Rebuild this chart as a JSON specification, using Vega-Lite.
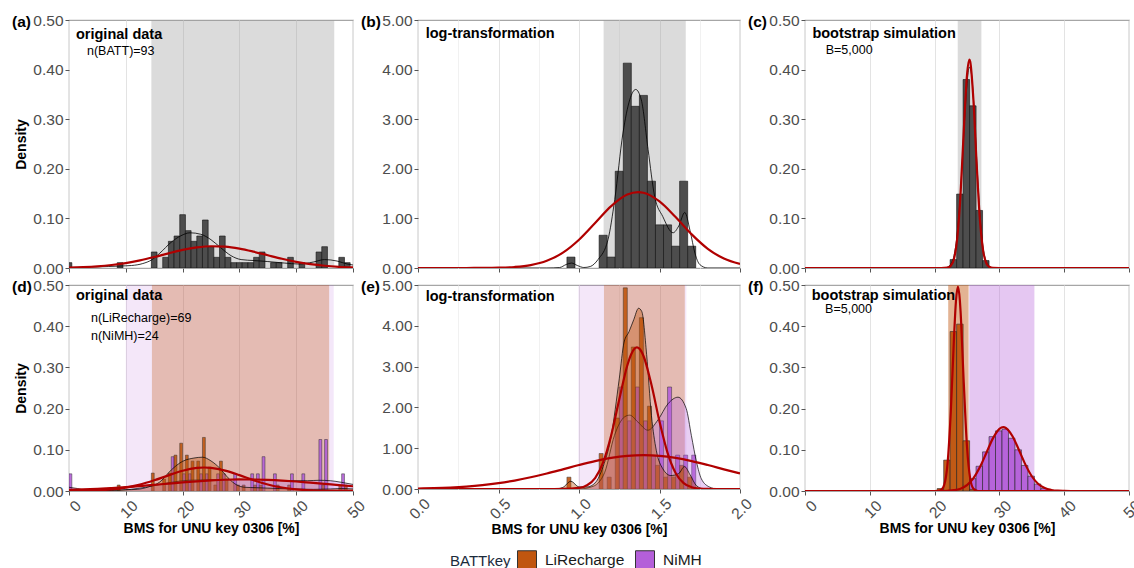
{
  "$schema": "https://vega.github.io/schema/vega-lite/v6.json",
  "padding": {"left": 11, "top": 12, "right": 0, "bottom": 0},
  "background": "white",
  "config": {
    "font": "Liberation Sans",
    "view": {"stroke": "#A6A6A6", "strokeWidth": 1.2},
    "axis": {"labelFont": "Liberation Sans", "labelFontSize": 15.5, "labelColor": "#4D4D4D", "titleFont": "Liberation Sans", "titleFontSize": 14, "titleFontWeight": "bold", "titleColor": "#000000", "domain": false, "tickSize": 4, "tickColor": "#555555", "labelOverlap": false, "labelFlush": false, "labelBound": false},
    "title": {"anchor": "start", "frame": "group", "fontSize": 15.5, "fontWeight": "bold", "font": "Liberation Sans", "color": "#000000", "offset": 0, "dx": -57, "dy": 21, "baseline": "alphabetic"},
    "text": {"font": "Liberation Sans", "color": "#000000"}
  },
  "datasets": {
    "bands": [
      {"p": "a", "g": "all", "lo": 14.5, "hi": 46.7},
      {"p": "b", "g": "all", "lo": 1.153, "hi": 1.663},
      {"p": "c", "g": "all", "lo": 23.57, "hi": 27.22},
      {"p": "d", "g": "NiMH", "lo": 10.0, "hi": 46.6},
      {"p": "d", "g": "LiRecharge", "lo": 14.6, "hi": 45.8},
      {"p": "e", "g": "NiMH", "lo": 0.996, "hi": 1.667},
      {"p": "e", "g": "LiRecharge", "lo": 1.155, "hi": 1.657},
      {"p": "f", "g": "NiMH", "lo": 25.35, "hi": 35.4},
      {"p": "f", "g": "LiRecharge", "lo": 22.1, "hi": 25.25}
    ],
    "notes": [
      {"p": "a", "x": 1.23, "y": 0.461, "t": "original data", "w": "bold"},
      {"p": "a", "x": 3.17, "y": 0.4294, "t": "n(BATT)=93", "w": "normal"},
      {"p": "b", "x": 0.048, "y": 4.63, "t": "log-transformation", "w": "bold"},
      {"p": "c", "x": 1.14, "y": 0.463, "t": "bootstrap simulation", "w": "bold"},
      {"p": "c", "x": 3.2, "y": 0.431, "t": "B=5,000", "w": "normal"},
      {"p": "d", "x": 1.23, "y": 0.4636, "t": "original data", "w": "bold"},
      {"p": "d", "x": 3.87, "y": 0.411, "t": "n(LiRecharge)=69", "w": "normal"},
      {"p": "d", "x": 3.87, "y": 0.3665, "t": "n(NiMH)=24", "w": "normal"},
      {"p": "e", "x": 0.048, "y": 4.62, "t": "log-transformation", "w": "bold"},
      {"p": "f", "x": 1.04, "y": 0.4636, "t": "bootstrap simulation", "w": "bold"},
      {"p": "f", "x": 3.1, "y": 0.431, "t": "B=5,000", "w": "normal"}
    ],
    "a_hist": [
      {"x0": -0.5, "x1": 0.5, "d": 0.0108}, {"x0": 8.5, "x1": 9.5, "d": 0.0108},
      {"x0": 14.5, "x1": 15.5, "d": 0.0323}, {"x0": 16.5, "x1": 17.5, "d": 0.0215},
      {"x0": 17.5, "x1": 18.5, "d": 0.0538}, {"x0": 18.5, "x1": 19.5, "d": 0.0645},
      {"x0": 19.5, "x1": 20.5, "d": 0.1075}, {"x0": 20.5, "x1": 21.5, "d": 0.0753},
      {"x0": 21.5, "x1": 22.5, "d": 0.0538}, {"x0": 22.5, "x1": 23.5, "d": 0.0645},
      {"x0": 23.5, "x1": 24.5, "d": 0.0968}, {"x0": 24.5, "x1": 25.5, "d": 0.043},
      {"x0": 25.5, "x1": 26.5, "d": 0.0215}, {"x0": 26.5, "x1": 27.5, "d": 0.0645},
      {"x0": 27.5, "x1": 28.5, "d": 0.0215}, {"x0": 28.5, "x1": 29.5, "d": 0.0108},
      {"x0": 29.5, "x1": 30.5, "d": 0.0108}, {"x0": 30.5, "x1": 31.5, "d": 0.0108},
      {"x0": 31.5, "x1": 32.5, "d": 0.0108}, {"x0": 32.5, "x1": 33.5, "d": 0.0215},
      {"x0": 33.5, "x1": 34.5, "d": 0.0323}, {"x0": 35.5, "x1": 36.5, "d": 0.0108},
      {"x0": 36.5, "x1": 37.5, "d": 0.0108}, {"x0": 38.5, "x1": 39.5, "d": 0.0215},
      {"x0": 40.5, "x1": 41.5, "d": 0.0108}, {"x0": 43.5, "x1": 44.5, "d": 0.0323},
      {"x0": 44.5, "x1": 45.5, "d": 0.043}, {"x0": 47.5, "x1": 48.5, "d": 0.0215},
      {"x0": 48.5, "x1": 49.5, "d": 0.0108}
    ],
    "a_kde": [
      {"x": 0, "d": 0.001}, {"x": 4, "d": 0.002}, {"x": 7, "d": 0.003}, {"x": 9, "d": 0.004},
      {"x": 11, "d": 0.005}, {"x": 13, "d": 0.009}, {"x": 14.5, "d": 0.016}, {"x": 16, "d": 0.03},
      {"x": 18, "d": 0.052}, {"x": 19.7, "d": 0.065}, {"x": 21.3, "d": 0.071}, {"x": 23.2, "d": 0.068},
      {"x": 25, "d": 0.057}, {"x": 26.7, "d": 0.041}, {"x": 28.5, "d": 0.025}, {"x": 30.3, "d": 0.017},
      {"x": 32.6, "d": 0.015}, {"x": 35, "d": 0.013}, {"x": 37.9, "d": 0.01}, {"x": 40.5, "d": 0.008},
      {"x": 43, "d": 0.012}, {"x": 45, "d": 0.017}, {"x": 47.2, "d": 0.014}, {"x": 49, "d": 0.008},
      {"x": 50, "d": 0.006}
    ],
    "a_norm": [
      {"x": 0, "d": 0.0008}, {"x": 2.5, "d": 0.0017}, {"x": 5, "d": 0.0033}, {"x": 7.5, "d": 0.006},
      {"x": 10, "d": 0.01}, {"x": 12.5, "d": 0.0155}, {"x": 15, "d": 0.0222}, {"x": 17.5, "d": 0.0295},
      {"x": 20, "d": 0.0364}, {"x": 22.5, "d": 0.0415}, {"x": 25, "d": 0.0439}, {"x": 27.5, "d": 0.043},
      {"x": 30, "d": 0.0391}, {"x": 32.5, "d": 0.0329}, {"x": 35, "d": 0.0257}, {"x": 37.5, "d": 0.0186},
      {"x": 40, "d": 0.0125}, {"x": 42.5, "d": 0.0078}, {"x": 45, "d": 0.0045}, {"x": 47.5, "d": 0.0024},
      {"x": 50, "d": 0.0012}
    ],
    "b_hist": [
      {"x0": 0.925, "x1": 0.975, "d": 0.22}, {"x0": 1.125, "x1": 1.175, "d": 0.66},
      {"x0": 1.175, "x1": 1.225, "d": 0.22}, {"x0": 1.225, "x1": 1.275, "d": 1.95},
      {"x0": 1.275, "x1": 1.325, "d": 4.13}, {"x0": 1.325, "x1": 1.375, "d": 3.26},
      {"x0": 1.375, "x1": 1.425, "d": 3.48}, {"x0": 1.425, "x1": 1.475, "d": 1.75},
      {"x0": 1.475, "x1": 1.525, "d": 0.87}, {"x0": 1.525, "x1": 1.575, "d": 0.87},
      {"x0": 1.575, "x1": 1.625, "d": 0.44}, {"x0": 1.625, "x1": 1.675, "d": 1.75},
      {"x0": 1.675, "x1": 1.725, "d": 0.44}
    ],
    "b_kde": [
      {"x": 0, "d": 0}, {"x": 0.8, "d": 0}, {"x": 0.88, "d": 0.01}, {"x": 0.92, "d": 0.07},
      {"x": 0.953, "d": 0.1}, {"x": 0.99, "d": 0.05}, {"x": 1.03, "d": 0.01}, {"x": 1.07, "d": 0.03},
      {"x": 1.118, "d": 0.17}, {"x": 1.18, "d": 0.57}, {"x": 1.222, "d": 1.38}, {"x": 1.273, "d": 2.72},
      {"x": 1.315, "d": 3.39}, {"x": 1.352, "d": 3.6}, {"x": 1.387, "d": 3.39}, {"x": 1.429, "d": 2.39},
      {"x": 1.47, "d": 1.44}, {"x": 1.52, "d": 1.04}, {"x": 1.584, "d": 0.71}, {"x": 1.62, "d": 0.85},
      {"x": 1.657, "d": 1.12}, {"x": 1.69, "d": 0.75}, {"x": 1.72, "d": 0.3}, {"x": 1.75, "d": 0.07},
      {"x": 1.8, "d": 0}, {"x": 2, "d": 0}
    ],
    "b_norm": [
      {"x": 0, "d": 0}, {"x": 0.2, "d": 0.0001}, {"x": 0.3, "d": 0.0004}, {"x": 0.4, "d": 0.0016},
      {"x": 0.5, "d": 0.0062}, {"x": 0.6, "d": 0.0204}, {"x": 0.7, "d": 0.0583}, {"x": 0.8, "d": 0.1446},
      {"x": 0.9, "d": 0.309}, {"x": 1.0, "d": 0.57}, {"x": 1.1, "d": 0.907}, {"x": 1.2, "d": 1.247},
      {"x": 1.3, "d": 1.48}, {"x": 1.367, "d": 1.53}, {"x": 1.4, "d": 1.518}, {"x": 1.5, "d": 1.343},
      {"x": 1.6, "d": 1.027}, {"x": 1.7, "d": 0.678}, {"x": 1.8, "d": 0.387}, {"x": 1.9, "d": 0.19},
      {"x": 2.0, "d": 0.081}
    ],
    "c_hist": [
      {"x0": 22.4, "x1": 23.4, "d": 0.017}, {"x0": 23.4, "x1": 24.4, "d": 0.149},
      {"x0": 24.4, "x1": 25.4, "d": 0.38}, {"x0": 25.4, "x1": 26.4, "d": 0.327},
      {"x0": 26.4, "x1": 27.4, "d": 0.116}, {"x0": 27.4, "x1": 28.4, "d": 0.015}
    ],
    "c_kde": [
      {"x": 0, "d": 0}, {"x": 21.5, "d": 0}, {"x": 22, "d": 0.002}, {"x": 22.5, "d": 0.008},
      {"x": 23, "d": 0.025}, {"x": 23.5, "d": 0.07}, {"x": 24, "d": 0.152}, {"x": 24.5, "d": 0.27},
      {"x": 25, "d": 0.372}, {"x": 25.35, "d": 0.405}, {"x": 25.7, "d": 0.39}, {"x": 26, "d": 0.34},
      {"x": 26.5, "d": 0.218}, {"x": 27, "d": 0.107}, {"x": 27.5, "d": 0.04}, {"x": 28, "d": 0.012},
      {"x": 28.5, "d": 0.003}, {"x": 29, "d": 0}, {"x": 50, "d": 0}
    ],
    "c_norm": [
      {"x": 0, "d": 0}, {"x": 21, "d": 0}, {"x": 22, "d": 0.0008}, {"x": 22.5, "d": 0.0044},
      {"x": 23, "d": 0.0187}, {"x": 23.5, "d": 0.0606}, {"x": 24, "d": 0.1485}, {"x": 24.5, "d": 0.276},
      {"x": 25, "d": 0.389}, {"x": 25.37, "d": 0.42}, {"x": 25.5, "d": 0.416}, {"x": 26, "d": 0.337},
      {"x": 26.5, "d": 0.207}, {"x": 27, "d": 0.0964}, {"x": 27.5, "d": 0.034}, {"x": 28, "d": 0.0091},
      {"x": 28.5, "d": 0.0018}, {"x": 29, "d": 0.0003}, {"x": 30, "d": 0}, {"x": 50, "d": 0}
    ],
    "d_hist": [
      {"g": "NiMH", "x0": 0, "x1": 0.5, "d": 0.0417}, {"g": "NiMH", "x0": 18, "x1": 18.5, "d": 0.0833},
      {"g": "NiMH", "x0": 20, "x1": 20.5, "d": 0.0417}, {"g": "NiMH", "x0": 21, "x1": 21.5, "d": 0.0417},
      {"g": "NiMH", "x0": 23, "x1": 23.5, "d": 0.0417}, {"g": "NiMH", "x0": 24, "x1": 24.5, "d": 0.0417},
      {"g": "NiMH", "x0": 26, "x1": 26.5, "d": 0.0417}, {"g": "NiMH", "x0": 27, "x1": 27.5, "d": 0.0417},
      {"g": "NiMH", "x0": 29, "x1": 29.5, "d": 0.0417}, {"g": "NiMH", "x0": 32, "x1": 32.5, "d": 0.0417},
      {"g": "NiMH", "x0": 33, "x1": 33.5, "d": 0.0417}, {"g": "NiMH", "x0": 34, "x1": 34.5, "d": 0.0833},
      {"g": "NiMH", "x0": 36, "x1": 36.5, "d": 0.0417}, {"g": "NiMH", "x0": 39, "x1": 39.5, "d": 0.0417},
      {"g": "NiMH", "x0": 41, "x1": 41.5, "d": 0.0417}, {"g": "NiMH", "x0": 44, "x1": 44.5, "d": 0.125},
      {"g": "NiMH", "x0": 45, "x1": 45.5, "d": 0.125}, {"g": "NiMH", "x0": 48, "x1": 48.5, "d": 0.0417},
      {"g": "LiRecharge", "x0": 8.5, "x1": 9, "d": 0.0145}, {"g": "LiRecharge", "x0": 14.5, "x1": 15, "d": 0.0435},
      {"g": "LiRecharge", "x0": 16.5, "x1": 17, "d": 0.029}, {"g": "LiRecharge", "x0": 17.5, "x1": 18, "d": 0.0435},
      {"g": "LiRecharge", "x0": 18.5, "x1": 19, "d": 0.087}, {"g": "LiRecharge", "x0": 19.5, "x1": 20, "d": 0.116},
      {"g": "LiRecharge", "x0": 20.5, "x1": 21, "d": 0.087}, {"g": "LiRecharge", "x0": 21.5, "x1": 22, "d": 0.0725},
      {"g": "LiRecharge", "x0": 22.5, "x1": 23, "d": 0.0725}, {"g": "LiRecharge", "x0": 23.5, "x1": 24, "d": 0.13},
      {"g": "LiRecharge", "x0": 24.5, "x1": 25, "d": 0.058}, {"g": "LiRecharge", "x0": 25.5, "x1": 26, "d": 0.0145},
      {"g": "LiRecharge", "x0": 26.5, "x1": 27, "d": 0.0725}, {"g": "LiRecharge", "x0": 27.5, "x1": 28, "d": 0.029},
      {"g": "LiRecharge", "x0": 29.5, "x1": 30, "d": 0.0145}, {"g": "LiRecharge", "x0": 30.5, "x1": 31, "d": 0.0145},
      {"g": "LiRecharge", "x0": 32.5, "x1": 33, "d": 0.0145}, {"g": "LiRecharge", "x0": 33.5, "x1": 34, "d": 0.0145},
      {"g": "LiRecharge", "x0": 36.5, "x1": 37, "d": 0.0145}, {"g": "LiRecharge", "x0": 38.5, "x1": 39, "d": 0.0145},
      {"g": "LiRecharge", "x0": 44.5, "x1": 45, "d": 0.0145}, {"g": "LiRecharge", "x0": 47.5, "x1": 48, "d": 0.0145},
      {"g": "LiRecharge", "x0": 48.5, "x1": 49, "d": 0.0145}
    ],
    "d_kde": [
      {"g": "LiRecharge", "x": 0, "d": 0}, {"g": "LiRecharge", "x": 6, "d": 0.0005}, {"g": "LiRecharge", "x": 8, "d": 0.002},
      {"g": "LiRecharge", "x": 10, "d": 0.003}, {"g": "LiRecharge", "x": 12, "d": 0.004}, {"g": "LiRecharge", "x": 14, "d": 0.01},
      {"g": "LiRecharge", "x": 16, "d": 0.022}, {"g": "LiRecharge", "x": 18, "d": 0.051}, {"g": "LiRecharge", "x": 20, "d": 0.072},
      {"g": "LiRecharge", "x": 22, "d": 0.08}, {"g": "LiRecharge", "x": 23.5, "d": 0.082}, {"g": "LiRecharge", "x": 25, "d": 0.073},
      {"g": "LiRecharge", "x": 26.5, "d": 0.056}, {"g": "LiRecharge", "x": 28, "d": 0.032}, {"g": "LiRecharge", "x": 29.5, "d": 0.015},
      {"g": "LiRecharge", "x": 31, "d": 0.009}, {"g": "LiRecharge", "x": 33, "d": 0.008}, {"g": "LiRecharge", "x": 35, "d": 0.007},
      {"g": "LiRecharge", "x": 37, "d": 0.006}, {"g": "LiRecharge", "x": 40, "d": 0.005}, {"g": "LiRecharge", "x": 43, "d": 0.004},
      {"g": "LiRecharge", "x": 46, "d": 0.005}, {"g": "LiRecharge", "x": 48, "d": 0.006}, {"g": "LiRecharge", "x": 50, "d": 0.005},
      {"g": "NiMH", "x": 0, "d": 0.009}, {"g": "NiMH", "x": 1.5, "d": 0.006}, {"g": "NiMH", "x": 3, "d": 0.002},
      {"g": "NiMH", "x": 6, "d": 0.001}, {"g": "NiMH", "x": 9, "d": 0.002}, {"g": "NiMH", "x": 12, "d": 0.006},
      {"g": "NiMH", "x": 15, "d": 0.013}, {"g": "NiMH", "x": 18, "d": 0.021}, {"g": "NiMH", "x": 21, "d": 0.026},
      {"g": "NiMH", "x": 24, "d": 0.027}, {"g": "NiMH", "x": 27, "d": 0.028}, {"g": "NiMH", "x": 30, "d": 0.028},
      {"g": "NiMH", "x": 33, "d": 0.028}, {"g": "NiMH", "x": 36, "d": 0.026}, {"g": "NiMH", "x": 39, "d": 0.025},
      {"g": "NiMH", "x": 42, "d": 0.025}, {"g": "NiMH", "x": 44, "d": 0.026}, {"g": "NiMH", "x": 46, "d": 0.025},
      {"g": "NiMH", "x": 48, "d": 0.021}, {"g": "NiMH", "x": 50, "d": 0.016}
    ],
    "d_norm": [
      {"g": "LiRecharge", "x": 0, "d": 0.0002}, {"g": "LiRecharge", "x": 2.5, "d": 0.0006}, {"g": "LiRecharge", "x": 5, "d": 0.0016},
      {"g": "LiRecharge", "x": 7.5, "d": 0.0038}, {"g": "LiRecharge", "x": 10, "d": 0.0082}, {"g": "LiRecharge", "x": 12.5, "d": 0.0155},
      {"g": "LiRecharge", "x": 15, "d": 0.0259}, {"g": "LiRecharge", "x": 17.5, "d": 0.038}, {"g": "LiRecharge", "x": 20, "d": 0.0492},
      {"g": "LiRecharge", "x": 22.5, "d": 0.056}, {"g": "LiRecharge", "x": 23.8, "d": 0.057}, {"g": "LiRecharge", "x": 25, "d": 0.0562},
      {"g": "LiRecharge", "x": 27.5, "d": 0.0496}, {"g": "LiRecharge", "x": 30, "d": 0.0385}, {"g": "LiRecharge", "x": 32.5, "d": 0.0263},
      {"g": "LiRecharge", "x": 35, "d": 0.0158}, {"g": "LiRecharge", "x": 37.5, "d": 0.0084}, {"g": "LiRecharge", "x": 40, "d": 0.0039},
      {"g": "LiRecharge", "x": 42.5, "d": 0.0016}, {"g": "LiRecharge", "x": 45, "d": 0.0006}, {"g": "LiRecharge", "x": 47.5, "d": 0.0002},
      {"g": "LiRecharge", "x": 50, "d": 0.0001},
      {"g": "NiMH", "x": 0, "d": 0.0026}, {"g": "NiMH", "x": 2.5, "d": 0.0038}, {"g": "NiMH", "x": 5, "d": 0.0053},
      {"g": "NiMH", "x": 7.5, "d": 0.0072}, {"g": "NiMH", "x": 10, "d": 0.0094}, {"g": "NiMH", "x": 12.5, "d": 0.012},
      {"g": "NiMH", "x": 15, "d": 0.0149}, {"g": "NiMH", "x": 17.5, "d": 0.0179}, {"g": "NiMH", "x": 20, "d": 0.0208},
      {"g": "NiMH", "x": 22.5, "d": 0.0235}, {"g": "NiMH", "x": 25, "d": 0.0257}, {"g": "NiMH", "x": 27.5, "d": 0.0273},
      {"g": "NiMH", "x": 30, "d": 0.028}, {"g": "NiMH", "x": 32.5, "d": 0.0279}, {"g": "NiMH", "x": 35, "d": 0.027},
      {"g": "NiMH", "x": 37.5, "d": 0.0253}, {"g": "NiMH", "x": 40, "d": 0.023}, {"g": "NiMH", "x": 42.5, "d": 0.0202},
      {"g": "NiMH", "x": 45, "d": 0.0173}, {"g": "NiMH", "x": 47.5, "d": 0.0143}, {"g": "NiMH", "x": 50, "d": 0.0115}
    ],
    "e_hist": [
      {"g": "NiMH", "x0": 1.25, "x1": 1.275, "d": 2.5}, {"g": "NiMH", "x0": 1.3, "x1": 1.325, "d": 1.67},
      {"g": "NiMH", "x0": 1.35, "x1": 1.375, "d": 2.5}, {"g": "NiMH", "x0": 1.4, "x1": 1.425, "d": 1.67},
      {"g": "NiMH", "x0": 1.45, "x1": 1.475, "d": 0.83}, {"g": "NiMH", "x0": 1.5, "x1": 1.525, "d": 1.67},
      {"g": "NiMH", "x0": 1.55, "x1": 1.575, "d": 2.5}, {"g": "NiMH", "x0": 1.6, "x1": 1.625, "d": 0.83},
      {"g": "NiMH", "x0": 1.65, "x1": 1.675, "d": 0.83}, {"g": "NiMH", "x0": 1.7, "x1": 1.725, "d": 0.83},
      {"g": "LiRecharge", "x0": 0.925, "x1": 0.95, "d": 0.29}, {"g": "LiRecharge", "x0": 1.125, "x1": 1.15, "d": 0.87},
      {"g": "LiRecharge", "x0": 1.175, "x1": 1.2, "d": 0.29}, {"g": "LiRecharge", "x0": 1.225, "x1": 1.25, "d": 1.74},
      {"g": "LiRecharge", "x0": 1.275, "x1": 1.3, "d": 4.93}, {"g": "LiRecharge", "x0": 1.325, "x1": 1.35, "d": 3.48},
      {"g": "LiRecharge", "x0": 1.375, "x1": 1.4, "d": 4.2}, {"g": "LiRecharge", "x0": 1.425, "x1": 1.45, "d": 2.03},
      {"g": "LiRecharge", "x0": 1.475, "x1": 1.5, "d": 0.58}, {"g": "LiRecharge", "x0": 1.525, "x1": 1.55, "d": 0.29},
      {"g": "LiRecharge", "x0": 1.575, "x1": 1.6, "d": 0.29}, {"g": "LiRecharge", "x0": 1.625, "x1": 1.65, "d": 0.58},
      {"g": "LiRecharge", "x0": 1.675, "x1": 1.7, "d": 0.29}
    ],
    "e_kde": [
      {"g": "LiRecharge", "x": 0, "d": 0}, {"g": "LiRecharge", "x": 0.85, "d": 0}, {"g": "LiRecharge", "x": 0.9, "d": 0.04},
      {"g": "LiRecharge", "x": 0.95, "d": 0.19}, {"g": "LiRecharge", "x": 1.0, "d": 0.05}, {"g": "LiRecharge", "x": 1.05, "d": 0.05},
      {"g": "LiRecharge", "x": 1.1, "d": 0.15}, {"g": "LiRecharge", "x": 1.15, "d": 0.55}, {"g": "LiRecharge", "x": 1.2, "d": 1.3},
      {"g": "LiRecharge", "x": 1.25, "d": 2.7}, {"g": "LiRecharge", "x": 1.28, "d": 3.6}, {"g": "LiRecharge", "x": 1.31, "d": 3.85},
      {"g": "LiRecharge", "x": 1.34, "d": 4.15}, {"g": "LiRecharge", "x": 1.37, "d": 4.43}, {"g": "LiRecharge", "x": 1.39, "d": 4.35},
      {"g": "LiRecharge", "x": 1.42, "d": 3.3}, {"g": "LiRecharge", "x": 1.45, "d": 1.8}, {"g": "LiRecharge", "x": 1.48, "d": 0.95},
      {"g": "LiRecharge", "x": 1.52, "d": 0.5}, {"g": "LiRecharge", "x": 1.57, "d": 0.33}, {"g": "LiRecharge", "x": 1.62, "d": 0.38},
      {"g": "LiRecharge", "x": 1.655, "d": 0.55}, {"g": "LiRecharge", "x": 1.69, "d": 0.35}, {"g": "LiRecharge", "x": 1.73, "d": 0.08},
      {"g": "LiRecharge", "x": 1.78, "d": 0}, {"g": "LiRecharge", "x": 2, "d": 0},
      {"g": "NiMH", "x": 0, "d": 0}, {"g": "NiMH", "x": 1.0, "d": 0}, {"g": "NiMH", "x": 1.076, "d": 0.05},
      {"g": "NiMH", "x": 1.12, "d": 0.15}, {"g": "NiMH", "x": 1.16, "d": 0.41}, {"g": "NiMH", "x": 1.22, "d": 1.31},
      {"g": "NiMH", "x": 1.284, "d": 1.77}, {"g": "NiMH", "x": 1.315, "d": 1.81}, {"g": "NiMH", "x": 1.366, "d": 1.64},
      {"g": "NiMH", "x": 1.428, "d": 1.44}, {"g": "NiMH", "x": 1.49, "d": 1.69}, {"g": "NiMH", "x": 1.553, "d": 2.09},
      {"g": "NiMH", "x": 1.615, "d": 2.25}, {"g": "NiMH", "x": 1.666, "d": 1.97}, {"g": "NiMH", "x": 1.698, "d": 1.31},
      {"g": "NiMH", "x": 1.73, "d": 0.66}, {"g": "NiMH", "x": 1.76, "d": 0.25}, {"g": "NiMH", "x": 1.81, "d": 0.05},
      {"g": "NiMH", "x": 1.86, "d": 0}, {"g": "NiMH", "x": 2, "d": 0}
    ],
    "e_norm": [
      {"g": "LiRecharge", "x": 0, "d": 0}, {"g": "LiRecharge", "x": 0.8, "d": 0}, {"g": "LiRecharge", "x": 0.9, "d": 0.0012},
      {"g": "LiRecharge", "x": 1.0, "d": 0.026}, {"g": "LiRecharge", "x": 1.05, "d": 0.092}, {"g": "LiRecharge", "x": 1.1, "d": 0.269},
      {"g": "LiRecharge", "x": 1.15, "d": 0.655}, {"g": "LiRecharge", "x": 1.2, "d": 1.318}, {"g": "LiRecharge", "x": 1.25, "d": 2.195},
      {"g": "LiRecharge", "x": 1.3, "d": 3.028}, {"g": "LiRecharge", "x": 1.325, "d": 3.31}, {"g": "LiRecharge", "x": 1.36, "d": 3.47},
      {"g": "LiRecharge", "x": 1.375, "d": 3.44}, {"g": "LiRecharge", "x": 1.4, "d": 3.267}, {"g": "LiRecharge", "x": 1.45, "d": 2.554},
      {"g": "LiRecharge", "x": 1.5, "d": 1.654}, {"g": "LiRecharge", "x": 1.55, "d": 0.886}, {"g": "LiRecharge", "x": 1.6, "d": 0.393},
      {"g": "LiRecharge", "x": 1.65, "d": 0.144}, {"g": "LiRecharge", "x": 1.7, "d": 0.044}, {"g": "LiRecharge", "x": 1.75, "d": 0.011},
      {"g": "LiRecharge", "x": 1.8, "d": 0.002}, {"g": "LiRecharge", "x": 1.9, "d": 0}, {"g": "LiRecharge", "x": 2, "d": 0},
      {"g": "NiMH", "x": 0, "d": 0.0118}, {"g": "NiMH", "x": 0.1, "d": 0.0212}, {"g": "NiMH", "x": 0.2, "d": 0.0365},
      {"g": "NiMH", "x": 0.3, "d": 0.0601}, {"g": "NiMH", "x": 0.4, "d": 0.0948}, {"g": "NiMH", "x": 0.5, "d": 0.143},
      {"g": "NiMH", "x": 0.6, "d": 0.207}, {"g": "NiMH", "x": 0.7, "d": 0.287}, {"g": "NiMH", "x": 0.8, "d": 0.38},
      {"g": "NiMH", "x": 0.9, "d": 0.4825}, {"g": "NiMH", "x": 1.0, "d": 0.587}, {"g": "NiMH", "x": 1.1, "d": 0.683},
      {"g": "NiMH", "x": 1.2, "d": 0.761}, {"g": "NiMH", "x": 1.3, "d": 0.812}, {"g": "NiMH", "x": 1.4, "d": 0.83},
      {"g": "NiMH", "x": 1.5, "d": 0.812}, {"g": "NiMH", "x": 1.6, "d": 0.761}, {"g": "NiMH", "x": 1.7, "d": 0.683},
      {"g": "NiMH", "x": 1.8, "d": 0.587}, {"g": "NiMH", "x": 1.9, "d": 0.4825}, {"g": "NiMH", "x": 2.0, "d": 0.38}
    ],
    "f_hist": [
      {"g": "NiMH", "x0": 24.4, "x1": 25.4, "d": 0.015}, {"g": "NiMH", "x0": 25.4, "x1": 26.4, "d": 0.03},
      {"g": "NiMH", "x0": 26.4, "x1": 27.4, "d": 0.06}, {"g": "NiMH", "x0": 27.4, "x1": 28.4, "d": 0.095},
      {"g": "NiMH", "x0": 28.4, "x1": 29.4, "d": 0.132}, {"g": "NiMH", "x0": 29.4, "x1": 30.4, "d": 0.146},
      {"g": "NiMH", "x0": 30.4, "x1": 31.4, "d": 0.15}, {"g": "NiMH", "x0": 31.4, "x1": 32.4, "d": 0.128},
      {"g": "NiMH", "x0": 32.4, "x1": 33.4, "d": 0.1}, {"g": "NiMH", "x0": 33.4, "x1": 34.4, "d": 0.062},
      {"g": "NiMH", "x0": 34.4, "x1": 35.4, "d": 0.036}, {"g": "NiMH", "x0": 35.4, "x1": 36.4, "d": 0.017},
      {"g": "NiMH", "x0": 36.4, "x1": 37.4, "d": 0.006}, {"g": "NiMH", "x0": 37.4, "x1": 38.4, "d": 0.002},
      {"g": "LiRecharge", "x0": 20.4, "x1": 21.4, "d": 0.006}, {"g": "LiRecharge", "x0": 21.4, "x1": 22.4, "d": 0.075},
      {"g": "LiRecharge", "x0": 22.4, "x1": 23.4, "d": 0.387}, {"g": "LiRecharge", "x0": 23.4, "x1": 24.4, "d": 0.405},
      {"g": "LiRecharge", "x0": 24.4, "x1": 25.4, "d": 0.122}, {"g": "LiRecharge", "x0": 25.4, "x1": 26.4, "d": 0.004}
    ],
    "f_norm": [
      {"g": "LiRecharge", "x": 0, "d": 0}, {"g": "LiRecharge", "x": 20, "d": 0}, {"g": "LiRecharge", "x": 20.5, "d": 0.0003},
      {"g": "LiRecharge", "x": 21, "d": 0.0025}, {"g": "LiRecharge", "x": 21.5, "d": 0.0158}, {"g": "LiRecharge", "x": 22, "d": 0.0671},
      {"g": "LiRecharge", "x": 22.5, "d": 0.1927}, {"g": "LiRecharge", "x": 23, "d": 0.3744}, {"g": "LiRecharge", "x": 23.3, "d": 0.462},
      {"g": "LiRecharge", "x": 23.6, "d": 0.496}, {"g": "LiRecharge", "x": 23.9, "d": 0.462}, {"g": "LiRecharge", "x": 24, "d": 0.4377},
      {"g": "LiRecharge", "x": 24.5, "d": 0.2634}, {"g": "LiRecharge", "x": 25, "d": 0.1073}, {"g": "LiRecharge", "x": 25.5, "d": 0.0296},
      {"g": "LiRecharge", "x": 26, "d": 0.0055}, {"g": "LiRecharge", "x": 26.5, "d": 0.0007}, {"g": "LiRecharge", "x": 27, "d": 0},
      {"g": "LiRecharge", "x": 50, "d": 0},
      {"g": "NiMH", "x": 0, "d": 0}, {"g": "NiMH", "x": 21, "d": 0}, {"g": "NiMH", "x": 22, "d": 0.0006},
      {"g": "NiMH", "x": 23, "d": 0.002}, {"g": "NiMH", "x": 24, "d": 0.0057}, {"g": "NiMH", "x": 25, "d": 0.0144},
      {"g": "NiMH", "x": 26, "d": 0.0312}, {"g": "NiMH", "x": 27, "d": 0.0581}, {"g": "NiMH", "x": 28, "d": 0.0929},
      {"g": "NiMH", "x": 29, "d": 0.1277}, {"g": "NiMH", "x": 30, "d": 0.1508}, {"g": "NiMH", "x": 30.6, "d": 0.155},
      {"g": "NiMH", "x": 31, "d": 0.1531}, {"g": "NiMH", "x": 32, "d": 0.1336}, {"g": "NiMH", "x": 33, "d": 0.1002},
      {"g": "NiMH", "x": 34, "d": 0.0646}, {"g": "NiMH", "x": 35, "d": 0.0358}, {"g": "NiMH", "x": 36, "d": 0.0171},
      {"g": "NiMH", "x": 37, "d": 0.007}, {"g": "NiMH", "x": 38, "d": 0.0025}, {"g": "NiMH", "x": 39, "d": 0.0007},
      {"g": "NiMH", "x": 40, "d": 0.0002}, {"g": "NiMH", "x": 41, "d": 0}, {"g": "NiMH", "x": 50, "d": 0}
    ]
  },
  "columns": 3,
  "bounds": "flush",
  "spacing": {"row": 17, "column": 65},
  "resolve": {"scale": {"x": "independent", "y": "independent", "color": "independent"}},
  "concat": [
    {
      "width": 284, "height": 248,
      "title": {"text": "(a)"},
      "layer": [
        {
          "data": {"name": "bands"}, "transform": [{"filter": "datum.p === 'a'"}],
          "mark": {"type": "rect", "color": "#9A9A9A", "opacity": 0.36},
          "encoding": {
            "x": {"field": "lo", "type": "quantitative", "scale": {"domain": [0, 50], "nice": false, "zero": false},
                  "axis": {"values": [0, 5, 10, 15, 20, 25, 30, 35, 40, 45, 50], "labels": false, "title": null,
                           "tickOpacity": {"condition": {"test": "datum.value % 10 === 0", "value": 1}, "value": 0},
                           "gridColor": {"condition": {"test": "datum.value % 10 === 0", "value": "#E3E3E3"}, "value": "#F1F1F1"}}},
            "x2": {"field": "hi"},
            "y": {"datum": 0, "type": "quantitative", "scale": {"domain": [0, 0.5], "nice": false},
                  "axis": {"values": [0, 0.05, 0.1, 0.15, 0.2, 0.25, 0.3, 0.35, 0.4, 0.45, 0.5], "title": "Density", "titlePadding": 4,
                           "labelExpr": "round(datum.value*100) % 10 === 0 ? format(datum.value, '.2f') : ''", "labelPadding": 2,
                           "tickOpacity": {"condition": {"test": "round(datum.value*100) % 10 === 0", "value": 1}, "value": 0},
                           "gridColor": {"condition": {"test": "round(datum.value*100) % 10 === 0", "value": "#E3E3E3"}, "value": "#F1F1F1"}}},
            "y2": {"datum": 0.5}
          }
        },
        {
          "data": {"name": "a_hist"},
          "mark": {"type": "rect", "fill": "#4D4D4D", "stroke": "#111111", "strokeWidth": 0.6, "clip": true},
          "encoding": {"x": {"field": "x0", "type": "quantitative"}, "x2": {"field": "x1"}, "y": {"field": "d", "type": "quantitative"}, "y2": {"datum": 0}}
        },
        {
          "data": {"name": "a_kde"},
          "mark": {"type": "line", "color": "#000000", "strokeWidth": 0.8, "interpolate": "monotone", "clip": true},
          "encoding": {"x": {"field": "x", "type": "quantitative"}, "y": {"field": "d", "type": "quantitative"}}
        },
        {
          "data": {"name": "a_norm"},
          "mark": {"type": "line", "color": "#B00000", "strokeWidth": 2.2, "interpolate": "monotone", "clip": true},
          "encoding": {"x": {"field": "x", "type": "quantitative"}, "y": {"field": "d", "type": "quantitative"}}
        },
        {
          "data": {"name": "notes"}, "transform": [{"filter": "datum.p === 'a' && datum.w === 'bold'"}],
          "mark": {"type": "text", "align": "left", "baseline": "alphabetic", "fontWeight": "bold", "fontSize": 14.5},
          "encoding": {"x": {"field": "x", "type": "quantitative"}, "y": {"field": "y", "type": "quantitative"}, "text": {"field": "t"}}
        },
        {
          "data": {"name": "notes"}, "transform": [{"filter": "datum.p === 'a' && datum.w === 'normal'"}],
          "mark": {"type": "text", "align": "left", "baseline": "alphabetic", "fontSize": 12.5},
          "encoding": {"x": {"field": "x", "type": "quantitative"}, "y": {"field": "y", "type": "quantitative"}, "text": {"field": "t"}}
        }
      ]
    },
    {
      "width": 322, "height": 248,
      "title": {"text": "(b)"},
      "layer": [
        {
          "data": {"name": "bands"}, "transform": [{"filter": "datum.p === 'b'"}],
          "mark": {"type": "rect", "color": "#9A9A9A", "opacity": 0.36},
          "encoding": {
            "x": {"field": "lo", "type": "quantitative", "scale": {"domain": [0, 2], "nice": false, "zero": false},
                  "axis": {"values": [0, 0.25, 0.5, 0.75, 1, 1.25, 1.5, 1.75, 2], "labels": false, "title": null,
                           "tickOpacity": {"condition": {"test": "round(datum.value*100) % 50 === 0", "value": 1}, "value": 0},
                           "gridColor": {"condition": {"test": "round(datum.value*100) % 50 === 0", "value": "#E3E3E3"}, "value": "#F1F1F1"}}},
            "x2": {"field": "hi"},
            "y": {"datum": 0, "type": "quantitative", "scale": {"domain": [0, 5], "nice": false},
                  "axis": {"values": [0, 0.5, 1, 1.5, 2, 2.5, 3, 3.5, 4, 4.5, 5], "title": null,
                           "labelExpr": "datum.value % 1 === 0 ? format(datum.value, '.2f') : ''", "labelPadding": 2,
                           "tickOpacity": {"condition": {"test": "datum.value % 1 === 0", "value": 1}, "value": 0},
                           "gridColor": {"condition": {"test": "datum.value % 1 === 0", "value": "#E3E3E3"}, "value": "#F1F1F1"}}},
            "y2": {"datum": 5}
          }
        },
        {
          "data": {"name": "b_hist"},
          "mark": {"type": "rect", "fill": "#4D4D4D", "stroke": "#111111", "strokeWidth": 0.6, "clip": true},
          "encoding": {"x": {"field": "x0", "type": "quantitative"}, "x2": {"field": "x1"}, "y": {"field": "d", "type": "quantitative"}, "y2": {"datum": 0}}
        },
        {
          "data": {"name": "b_kde"},
          "mark": {"type": "line", "color": "#000000", "strokeWidth": 0.8, "interpolate": "monotone", "clip": true},
          "encoding": {"x": {"field": "x", "type": "quantitative"}, "y": {"field": "d", "type": "quantitative"}}
        },
        {
          "data": {"name": "b_norm"},
          "mark": {"type": "line", "color": "#B00000", "strokeWidth": 2.2, "interpolate": "monotone", "clip": true},
          "encoding": {"x": {"field": "x", "type": "quantitative"}, "y": {"field": "d", "type": "quantitative"}}
        },
        {
          "data": {"name": "notes"}, "transform": [{"filter": "datum.p === 'b'"}],
          "mark": {"type": "text", "align": "left", "baseline": "alphabetic", "fontWeight": "bold", "fontSize": 14.5},
          "encoding": {"x": {"field": "x", "type": "quantitative"}, "y": {"field": "y", "type": "quantitative"}, "text": {"field": "t"}}
        }
      ]
    },
    {
      "width": 324, "height": 248,
      "title": {"text": "(c)"},
      "layer": [
        {
          "data": {"name": "bands"}, "transform": [{"filter": "datum.p === 'c'"}],
          "mark": {"type": "rect", "color": "#9A9A9A", "opacity": 0.36},
          "encoding": {
            "x": {"field": "lo", "type": "quantitative", "scale": {"domain": [0, 50], "nice": false, "zero": false},
                  "axis": {"values": [0, 5, 10, 15, 20, 25, 30, 35, 40, 45, 50], "labels": false, "title": null,
                           "tickOpacity": {"condition": {"test": "datum.value % 10 === 0", "value": 1}, "value": 0},
                           "gridColor": {"condition": {"test": "datum.value % 10 === 0", "value": "#E3E3E3"}, "value": "#F1F1F1"}}},
            "x2": {"field": "hi"},
            "y": {"datum": 0, "type": "quantitative", "scale": {"domain": [0, 0.5], "nice": false},
                  "axis": {"values": [0, 0.05, 0.1, 0.15, 0.2, 0.25, 0.3, 0.35, 0.4, 0.45, 0.5], "title": null,
                           "labelExpr": "round(datum.value*100) % 10 === 0 ? format(datum.value, '.2f') : ''", "labelPadding": 2,
                           "tickOpacity": {"condition": {"test": "round(datum.value*100) % 10 === 0", "value": 1}, "value": 0},
                           "gridColor": {"condition": {"test": "round(datum.value*100) % 10 === 0", "value": "#E3E3E3"}, "value": "#F1F1F1"}}},
            "y2": {"datum": 0.5}
          }
        },
        {
          "data": {"name": "c_hist"},
          "mark": {"type": "rect", "fill": "#4D4D4D", "stroke": "#111111", "strokeWidth": 0.6, "clip": true},
          "encoding": {"x": {"field": "x0", "type": "quantitative"}, "x2": {"field": "x1"}, "y": {"field": "d", "type": "quantitative"}, "y2": {"datum": 0}}
        },
        {
          "data": {"name": "c_kde"},
          "mark": {"type": "line", "color": "#000000", "strokeWidth": 0.8, "interpolate": "monotone", "clip": true},
          "encoding": {"x": {"field": "x", "type": "quantitative"}, "y": {"field": "d", "type": "quantitative"}}
        },
        {
          "data": {"name": "c_norm"},
          "mark": {"type": "line", "color": "#B00000", "strokeWidth": 2.2, "interpolate": "monotone", "clip": true},
          "encoding": {"x": {"field": "x", "type": "quantitative"}, "y": {"field": "d", "type": "quantitative"}}
        },
        {
          "data": {"name": "notes"}, "transform": [{"filter": "datum.p === 'c' && datum.w === 'bold'"}],
          "mark": {"type": "text", "align": "left", "baseline": "alphabetic", "fontWeight": "bold", "fontSize": 14.5},
          "encoding": {"x": {"field": "x", "type": "quantitative"}, "y": {"field": "y", "type": "quantitative"}, "text": {"field": "t"}}
        },
        {
          "data": {"name": "notes"}, "transform": [{"filter": "datum.p === 'c' && datum.w === 'normal'"}],
          "mark": {"type": "text", "align": "left", "baseline": "alphabetic", "fontSize": 12.5},
          "encoding": {"x": {"field": "x", "type": "quantitative"}, "y": {"field": "y", "type": "quantitative"}, "text": {"field": "t"}}
        }
      ]
    },
    {
      "width": 284, "height": 206,
      "title": {"text": "(d)"},
      "layer": [
        {
          "data": {"name": "bands"}, "transform": [{"filter": "datum.p === 'd' && datum.g === 'NiMH'"}],
          "mark": {"type": "rect", "color": "#B45FD9", "opacity": 0.15},
          "encoding": {
            "x": {"field": "lo", "type": "quantitative", "scale": {"domain": [0, 50], "nice": false, "zero": false},
                  "axis": {"values": [0, 5, 10, 15, 20, 25, 30, 35, 40, 45, 50], "format": "d", "title": "BMS for UNU key 0306 [%]", "titlePadding": 0,
                           "labelExpr": "datum.value % 10 === 0 ? datum.label : ''", "labelAngle": -45, "labelAlign": "right", "labelBaseline": "top", "labelOffset": 4, "labelPadding": 3,
                           "tickOpacity": {"condition": {"test": "datum.value % 10 === 0", "value": 1}, "value": 0},
                           "gridColor": {"condition": {"test": "datum.value % 10 === 0", "value": "#E3E3E3"}, "value": "#F1F1F1"}}},
            "x2": {"field": "hi"},
            "y": {"datum": 0, "type": "quantitative", "scale": {"domain": [0, 0.5], "nice": false},
                  "axis": {"values": [0, 0.05, 0.1, 0.15, 0.2, 0.25, 0.3, 0.35, 0.4, 0.45, 0.5], "title": "Density", "titlePadding": 4,
                           "labelExpr": "round(datum.value*100) % 10 === 0 ? format(datum.value, '.2f') : ''", "labelPadding": 2,
                           "tickOpacity": {"condition": {"test": "round(datum.value*100) % 10 === 0", "value": 1}, "value": 0},
                           "gridColor": {"condition": {"test": "round(datum.value*100) % 10 === 0", "value": "#E3E3E3"}, "value": "#F1F1F1"}}},
            "y2": {"datum": 0.5}
          }
        },
        {
          "data": {"name": "bands"}, "transform": [{"filter": "datum.p === 'd' && datum.g === 'LiRecharge'"}],
          "mark": {"type": "rect", "color": "#C0560F", "opacity": 0.3},
          "encoding": {"x": {"field": "lo", "type": "quantitative"}, "x2": {"field": "hi"}, "y": {"datum": 0, "type": "quantitative"}, "y2": {"datum": 0.5}}
        },
        {
          "data": {"name": "d_hist"},
          "mark": {"type": "rect", "stroke": "#222222", "strokeWidth": 0.5, "opacity": 0.9, "clip": true},
          "encoding": {"x": {"field": "x0", "type": "quantitative"}, "x2": {"field": "x1"}, "y": {"field": "d", "type": "quantitative"}, "y2": {"datum": 0},
                       "color": {"field": "g", "type": "nominal", "scale": {"domain": ["LiRecharge", "NiMH"], "range": ["#C0560F", "#B45FD9"]}, "legend": null}}
        },
        {
          "data": {"name": "d_kde"}, "transform": [{"filter": "datum.g === 'NiMH'"}],
          "mark": {"type": "area", "color": "#B45FD9", "opacity": 0.3, "interpolate": "monotone", "clip": true, "line": {"color": "#000000", "strokeWidth": 0.7, "opacity": 1}},
          "encoding": {"x": {"field": "x", "type": "quantitative"}, "y": {"field": "d", "type": "quantitative"}}
        },
        {
          "data": {"name": "d_kde"}, "transform": [{"filter": "datum.g === 'LiRecharge'"}],
          "mark": {"type": "area", "color": "#C0560F", "opacity": 0.4, "interpolate": "monotone", "clip": true, "line": {"color": "#000000", "strokeWidth": 0.7, "opacity": 1}},
          "encoding": {"x": {"field": "x", "type": "quantitative"}, "y": {"field": "d", "type": "quantitative"}}
        },
        {
          "data": {"name": "d_norm"},
          "mark": {"type": "line", "color": "#B00000", "strokeWidth": 2.2, "interpolate": "monotone", "clip": true},
          "encoding": {"x": {"field": "x", "type": "quantitative"}, "y": {"field": "d", "type": "quantitative"}, "detail": {"field": "g"}}
        },
        {
          "data": {"name": "notes"}, "transform": [{"filter": "datum.p === 'd' && datum.w === 'bold'"}],
          "mark": {"type": "text", "align": "left", "baseline": "alphabetic", "fontWeight": "bold", "fontSize": 14.5},
          "encoding": {"x": {"field": "x", "type": "quantitative"}, "y": {"field": "y", "type": "quantitative"}, "text": {"field": "t"}}
        },
        {
          "data": {"name": "notes"}, "transform": [{"filter": "datum.p === 'd' && datum.w === 'normal'"}],
          "mark": {"type": "text", "align": "left", "baseline": "alphabetic", "fontSize": 12.5},
          "encoding": {"x": {"field": "x", "type": "quantitative"}, "y": {"field": "y", "type": "quantitative"}, "text": {"field": "t"}}
        }
      ]
    },
    {
      "width": 322, "height": 204,
      "title": {"text": "(e)"},
      "layer": [
        {
          "data": {"name": "bands"}, "transform": [{"filter": "datum.p === 'e' && datum.g === 'NiMH'"}],
          "mark": {"type": "rect", "color": "#B45FD9", "opacity": 0.15},
          "encoding": {
            "x": {"field": "lo", "type": "quantitative", "scale": {"domain": [0, 2], "nice": false, "zero": false},
                  "axis": {"values": [0, 0.25, 0.5, 0.75, 1, 1.25, 1.5, 1.75, 2], "title": "BMS for UNU key 0306 [%]", "titlePadding": 0,
                           "labelExpr": "round(datum.value*100) % 50 === 0 ? format(datum.value, '.1f') : ''", "labelAngle": -45, "labelAlign": "right", "labelBaseline": "top", "labelOffset": 4, "labelPadding": 3,
                           "tickOpacity": {"condition": {"test": "round(datum.value*100) % 50 === 0", "value": 1}, "value": 0},
                           "gridColor": {"condition": {"test": "round(datum.value*100) % 50 === 0", "value": "#E3E3E3"}, "value": "#F1F1F1"}}},
            "x2": {"field": "hi"},
            "y": {"datum": 0, "type": "quantitative", "scale": {"domain": [0, 5], "nice": false},
                  "axis": {"values": [0, 0.5, 1, 1.5, 2, 2.5, 3, 3.5, 4, 4.5, 5], "title": null,
                           "labelExpr": "datum.value % 1 === 0 ? format(datum.value, '.2f') : ''", "labelPadding": 2,
                           "tickOpacity": {"condition": {"test": "datum.value % 1 === 0", "value": 1}, "value": 0},
                           "gridColor": {"condition": {"test": "datum.value % 1 === 0", "value": "#E3E3E3"}, "value": "#F1F1F1"}}},
            "y2": {"datum": 5}
          }
        },
        {
          "data": {"name": "bands"}, "transform": [{"filter": "datum.p === 'e' && datum.g === 'LiRecharge'"}],
          "mark": {"type": "rect", "color": "#C0560F", "opacity": 0.3},
          "encoding": {"x": {"field": "lo", "type": "quantitative"}, "x2": {"field": "hi"}, "y": {"datum": 0, "type": "quantitative"}, "y2": {"datum": 5}}
        },
        {
          "data": {"name": "e_hist"},
          "mark": {"type": "rect", "stroke": "#222222", "strokeWidth": 0.5, "opacity": 0.9, "clip": true},
          "encoding": {"x": {"field": "x0", "type": "quantitative"}, "x2": {"field": "x1"}, "y": {"field": "d", "type": "quantitative"}, "y2": {"datum": 0},
                       "color": {"field": "g", "type": "nominal", "scale": {"domain": ["LiRecharge", "NiMH"], "range": ["#C0560F", "#B45FD9"]},
                                 "legend": {"orient": "none", "legendX": 32, "legendY": 265, "direction": "horizontal", "title": "BATTkey", "titleOrient": "left",
                                            "titleFontSize": 15, "titleFontWeight": "normal", "titleColor": "#1B2B3B", "titleFont": "Liberation Sans", "titlePadding": 6,
                                            "labelFont": "Liberation Sans", "labelFontSize": 15.5, "labelColor": "#1A1A1A", "labelOffset": 8, "columnPadding": 8,
                                            "symbolType": "square", "symbolSize": 361, "symbolStrokeColor": "#333333", "symbolStrokeWidth": 1, "symbolOpacity": 1}}}
        },
        {
          "data": {"name": "e_kde"}, "transform": [{"filter": "datum.g === 'NiMH'"}],
          "mark": {"type": "area", "color": "#B45FD9", "opacity": 0.3, "interpolate": "monotone", "clip": true, "line": {"color": "#000000", "strokeWidth": 0.7, "opacity": 1}},
          "encoding": {"x": {"field": "x", "type": "quantitative"}, "y": {"field": "d", "type": "quantitative"}}
        },
        {
          "data": {"name": "e_kde"}, "transform": [{"filter": "datum.g === 'LiRecharge'"}],
          "mark": {"type": "area", "color": "#C0560F", "opacity": 0.4, "interpolate": "monotone", "clip": true, "line": {"color": "#000000", "strokeWidth": 0.7, "opacity": 1}},
          "encoding": {"x": {"field": "x", "type": "quantitative"}, "y": {"field": "d", "type": "quantitative"}}
        },
        {
          "data": {"name": "e_norm"},
          "mark": {"type": "line", "color": "#B00000", "strokeWidth": 2.2, "interpolate": "monotone", "clip": true},
          "encoding": {"x": {"field": "x", "type": "quantitative"}, "y": {"field": "d", "type": "quantitative"}, "detail": {"field": "g"}}
        },
        {
          "data": {"name": "notes"}, "transform": [{"filter": "datum.p === 'e'"}],
          "mark": {"type": "text", "align": "left", "baseline": "alphabetic", "fontWeight": "bold", "fontSize": 14.5},
          "encoding": {"x": {"field": "x", "type": "quantitative"}, "y": {"field": "y", "type": "quantitative"}, "text": {"field": "t"}}
        }
      ]
    },
    {
      "width": 324, "height": 206,
      "title": {"text": "(f)"},
      "layer": [
        {
          "data": {"name": "bands"}, "transform": [{"filter": "datum.p === 'f' && datum.g === 'NiMH'"}],
          "mark": {"type": "rect", "color": "#B45FD9", "opacity": 0.35},
          "encoding": {
            "x": {"field": "lo", "type": "quantitative", "scale": {"domain": [0, 50], "nice": false, "zero": false},
                  "axis": {"values": [0, 5, 10, 15, 20, 25, 30, 35, 40, 45, 50], "format": "d", "title": "BMS for UNU key 0306 [%]", "titlePadding": 0,
                           "labelExpr": "datum.value % 10 === 0 ? datum.label : ''", "labelAngle": -45, "labelAlign": "right", "labelBaseline": "top", "labelOffset": 4, "labelPadding": 3,
                           "tickOpacity": {"condition": {"test": "datum.value % 10 === 0", "value": 1}, "value": 0},
                           "gridColor": {"condition": {"test": "datum.value % 10 === 0", "value": "#E3E3E3"}, "value": "#F1F1F1"}}},
            "x2": {"field": "hi"},
            "y": {"datum": 0, "type": "quantitative", "scale": {"domain": [0, 0.5], "nice": false},
                  "axis": {"values": [0, 0.05, 0.1, 0.15, 0.2, 0.25, 0.3, 0.35, 0.4, 0.45, 0.5], "title": null,
                           "labelExpr": "round(datum.value*100) % 10 === 0 ? format(datum.value, '.2f') : ''", "labelPadding": 2,
                           "tickOpacity": {"condition": {"test": "round(datum.value*100) % 10 === 0", "value": 1}, "value": 0},
                           "gridColor": {"condition": {"test": "round(datum.value*100) % 10 === 0", "value": "#E3E3E3"}, "value": "#F1F1F1"}}},
            "y2": {"datum": 0.5}
          }
        },
        {
          "data": {"name": "bands"}, "transform": [{"filter": "datum.p === 'f' && datum.g === 'LiRecharge'"}],
          "mark": {"type": "rect", "color": "#C0560F", "opacity": 0.45},
          "encoding": {"x": {"field": "lo", "type": "quantitative"}, "x2": {"field": "hi"}, "y": {"datum": 0, "type": "quantitative"}, "y2": {"datum": 0.5}}
        },
        {
          "data": {"name": "f_hist"},
          "mark": {"type": "rect", "stroke": "#222222", "strokeWidth": 0.6, "opacity": 0.95, "clip": true},
          "encoding": {"x": {"field": "x0", "type": "quantitative"}, "x2": {"field": "x1"}, "y": {"field": "d", "type": "quantitative"}, "y2": {"datum": 0},
                       "color": {"field": "g", "type": "nominal", "scale": {"domain": ["LiRecharge", "NiMH"], "range": ["#C0560F", "#B45FD9"]}, "legend": null}}
        },
        {
          "data": {"name": "f_norm"},
          "mark": {"type": "line", "color": "#B00000", "strokeWidth": 2.2, "interpolate": "monotone", "clip": true},
          "encoding": {"x": {"field": "x", "type": "quantitative"}, "y": {"field": "d", "type": "quantitative"}, "detail": {"field": "g"}}
        },
        {
          "data": {"name": "notes"}, "transform": [{"filter": "datum.p === 'f' && datum.w === 'bold'"}],
          "mark": {"type": "text", "align": "left", "baseline": "alphabetic", "fontWeight": "bold", "fontSize": 14.5},
          "encoding": {"x": {"field": "x", "type": "quantitative"}, "y": {"field": "y", "type": "quantitative"}, "text": {"field": "t"}}
        },
        {
          "data": {"name": "notes"}, "transform": [{"filter": "datum.p === 'f' && datum.w === 'normal'"}],
          "mark": {"type": "text", "align": "left", "baseline": "alphabetic", "fontSize": 12.5},
          "encoding": {"x": {"field": "x", "type": "quantitative"}, "y": {"field": "y", "type": "quantitative"}, "text": {"field": "t"}}
        }
      ]
    }
  ]
}
